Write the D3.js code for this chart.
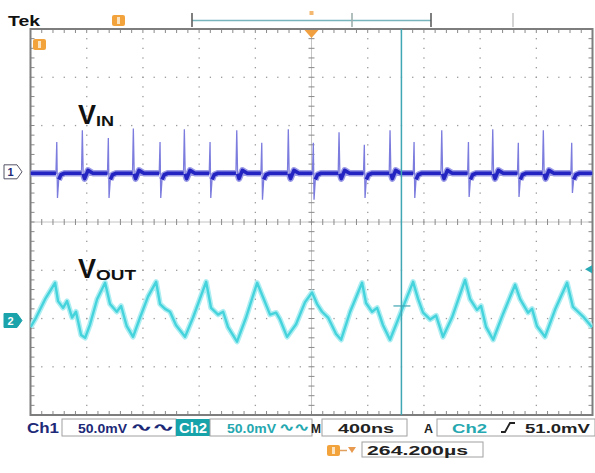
<!DOCTYPE html>
<html>
<head>
<meta charset="utf-8">
<script src="https://cdn.jsdelivr.net/npm/d3@7"></script>
<style>
body{margin:0;background:#fff}
svg{display:block}
text{font-family:"Liberation Sans",Arial,sans-serif;font-weight:bold}
</style>
</head>
<body>
<script>
var width = 595,
    height = 473;

// scope settings
var timePerDiv = 400;      // ns / div
var ch1Scale = 50, ch2Scale = 50;   // mV / div
var ch1Pos = 1.04, ch2Pos = -2;     // div
var trigLevel = 51.0;      // mV (ch2)
var cursorTime = 2640;     // ns

// VIN (ch1): switching spikes
var tallTimes  = [369, 732, 1095, 1468, 1835, 2196, 2559, 2927, 3290, 3650];
var tallPeaks  = [43, 45, 44, 43, 44, 41, 43, 43, 44, 43];
var shortTimes = [187, 554, 922, 1278, 1646, 2013, 2376, 2730, 3117, 3472, 3852];
var shortPeaks = [31, 35, 31, 31, 30, 30, 28, 31, 31, 30, 30];
var shortDips  = [-27, -27, -27, -27, -29, -29, -27, -27, -26, -26, -22];
var vinBase = -1.5;

// VOUT (ch2): ripple vertices
var voutTimes = [0,40,104,175,196,232,260,296,324,360,
    389,424,474,531,566,614,645,685,730,780,
    837,894,922,958,993,1036,1100,1157,1250,1285,
    1335,1371,1406,1470,1534,1613,1655,1705,1748,1776,
    1826,1890,1954,2004,2040,2075,2118,2175,2211,2275,
    2360,2388,2431,2467,2509,2559,2630,2723,2759,2794,
    2844,2887,2936,3000,3093,3129,3178,3207,3243,3293,
    3364,3449,3485,3541,3570,3605,3662,3733,3819,3861,
    3897,3933,3997];
var voutValues = [-9,1,20,37,18,11,18,1,7,-17,
    -20,-6,20,37,15,7,13,-8,-19,1,
    23,38,15,10,7,-7,-19,1,38,11,
    4,7,-9,-24,1,37,22,4,6,-1,
    -19,-6,17,27,15,7,1,-16,-22,7,
    37,16,7,11,-7,-22,4,38,20,6,
    -1,3,-19,1,40,20,9,13,-9,-22,
    5,35,20,6,10,-8,-19,9,37,12,
    7,2,-9];

var svg = d3.select("body").append("svg")
    .attr("width", width)
    .attr("height", height);

var x = d3.scaleLinear().domain([0, 10 * timePerDiv]).range([30.5, 592.5]);
var yDiv = d3.scaleLinear().domain([-4, 4]).range([415, 29]);
var y1 = function(mv){ return yDiv(ch1Pos + mv / ch1Scale); };
var y2 = function(mv){ return yDiv(ch2Pos + mv / ch2Scale); };

var x0 = x.range()[0], xr = x.range()[1], yt = yDiv(4), yb = yDiv(-4);
var gridCol = "#9a9a9a";

svg.append("clipPath").attr("id", "scr").append("rect")
    .attr("x", x0).attr("y", yt).attr("width", xr - x0).attr("height", yb - yt);

//dotted graticule
var g = svg.append("g");
var minor = d3.range(-4, 4.01, 0.2);
var minorX = d3.range(0, 10.01, 0.2);
d3.range(1, 10).forEach(function(i){
    if (i == 5) return;
    minor.forEach(function(v){
        g.append("rect").attr("x", x(i * timePerDiv) - 0.6).attr("y", yDiv(v) - 0.6)
            .attr("width", 1.3).attr("height", 1.3).attr("fill", gridCol);
    });
});
d3.range(-3, 4).forEach(function(j){
    if (j == 0) return;
    minorX.forEach(function(v){
        g.append("rect").attr("x", x(v * timePerDiv) - 0.6).attr("y", yDiv(j) - 0.6)
            .attr("width", 1.3).attr("height", 1.3).attr("fill", gridCol);
    });
});
//center axes with ticks
var xc = x(5 * timePerDiv), yc = yDiv(0);
g.append("line").attr("x1", x0).attr("x2", xr).attr("y1", yc).attr("y2", yc)
    .attr("stroke", "#c4c4c4").attr("stroke-width", 1);
g.append("line").attr("x1", xc).attr("x2", xc).attr("y1", yt).attr("y2", yb)
    .attr("stroke", "#c4c4c4").attr("stroke-width", 1);
minorX.forEach(function(v){
    var xx = x(v * timePerDiv);
    g.append("line").attr("x1", xx).attr("x2", xx).attr("y1", yc - 3).attr("y2", yc + 3)
        .attr("stroke", "#8a8a8a");
    g.append("line").attr("x1", xx).attr("x2", xx).attr("y1", yt).attr("y2", yt + 4)
        .attr("stroke", "#8a8a8a");
    g.append("line").attr("x1", xx).attr("x2", xx).attr("y1", yb - 4).attr("y2", yb)
        .attr("stroke", "#8a8a8a");
});
minor.forEach(function(v){
    var yy = yDiv(v);
    g.append("line").attr("x1", xc - 3).attr("x2", xc + 3).attr("y1", yy).attr("y2", yy)
        .attr("stroke", "#8a8a8a");
    g.append("line").attr("x1", x0).attr("x2", x0 + 4).attr("y1", yy).attr("y2", yy)
        .attr("stroke", "#8a8a8a");
    g.append("line").attr("x1", xr - 4).attr("x2", xr).attr("y1", yy).attr("y2", yy)
        .attr("stroke", "#8a8a8a");
});
g.append("rect").attr("x", x0).attr("y", yt).attr("width", xr - x0).attr("height", yb - yt)
    .attr("fill", "none").attr("stroke", "#7d7d7d").attr("stroke-width", 2);

//build VIN vertices from the spike events
var events = [];
tallTimes.forEach(function(t, i){ events.push({t: t, kind: "tall", up: tallPeaks[i]}); });
shortTimes.forEach(function(t, i){ events.push({t: t, kind: "short", up: shortPeaks[i], dn: shortDips[i]}); });
events.sort(function(a, b){ return a.t - b.t; });
var vin = [[0, vinBase]];
events.forEach(function(e){
    if (e.kind == "tall") {
        vin.push([e.t - 6, vinBase], [e.t, e.up], [e.t + 6, -2], [e.t + 16, -7],
                 [e.t + 40, 1.5], [e.t + 75, vinBase]);
    } else {
        vin.push([e.t - 6, vinBase], [e.t, e.up], [e.t + 5, e.dn], [e.t + 14, -8],
                 [e.t + 30, -3], [e.t + 55, vinBase]);
    }
});
vin.push([10 * timePerDiv, vinBase]);

var lineVin = d3.line().x(function(d){ return x(d[0]); }).y(function(d){ return y1(d[1]); });
var lineVinBase = d3.line()
    .defined(function(d){ return d[1] > -10 && d[1] < 5; })
    .x(function(d){ return x(d[0]); }).y(function(d){ return y1(d[1]); });
var vout = voutTimes.map(function(t, i){ return [t, voutValues[i]]; });
var lineVout = d3.line().x(function(d){ return x(d[0]); }).y(function(d){ return y2(d[1]); });

var traces = svg.append("g").attr("clip-path", "url(#scr)");
traces.append("path").attr("d", lineVin(vin)).attr("fill", "none")
    .attr("stroke", "#7c7cde").attr("stroke-width", 1.3);
traces.append("path").attr("d", lineVinBase(vin)).attr("fill", "none")
    .attr("stroke", "#9a9ae6").attr("stroke-width", 6.5).attr("stroke-linejoin", "round");
traces.append("path").attr("d", lineVinBase(vin)).attr("fill", "none")
    .attr("stroke", "#2424c2").attr("stroke-width", 3.6).attr("stroke-linejoin", "round");
traces.append("path").attr("d", lineVout(vout)).attr("fill", "none")
    .attr("stroke", "#aeeef2").attr("stroke-width", 5.5).attr("stroke-linejoin", "round");
traces.append("path").attr("d", lineVout(vout)).attr("fill", "none")
    .attr("stroke", "#45d3dc").attr("stroke-width", 2.4).attr("stroke-linejoin", "round");

//cursor
var xcur = x(cursorTime);
svg.append("line").attr("x1", xcur).attr("x2", xcur).attr("y1", yt).attr("y2", yb)
    .attr("stroke", "#3fa6b4").attr("stroke-width", 1.5);
svg.append("line").attr("x1", xcur - 8).attr("x2", xcur + 9).attr("y1", y2(13)).attr("y2", y2(13))
    .attr("stroke", "#3fa6b4").attr("stroke-width", 1.2);

//trace labels
function sub(main, s, xx, yy, sLen){
    var t = svg.append("text").attr("x", xx).attr("y", yy).attr("fill", "#111");
    t.append("tspan").attr("font-size", 27).text(main);
    t.append("tspan").attr("font-size", 15).attr("dy", 2).attr("textLength", sLen)
        .attr("lengthAdjust", "spacingAndGlyphs").text(s);
}
sub("V", "IN", 78, 124, 18);
sub("V", "OUT", 78, 278, 40);

//markers left / right
function chMarker(yy, n, fill, stroke, col){
    svg.append("path")
        .attr("d", "M4," + (yy - 7) + "H17L22," + yy + "L17," + (yy + 7) + "H4Z")
        .attr("fill", fill).attr("stroke", stroke).attr("stroke-width", 1);
    svg.append("text").attr("x", 10.5).attr("y", yy + 4).attr("font-size", 11)
        .attr("text-anchor", "middle").attr("fill", col).text(n);
}
chMarker(y1(0), "1", "#fff", "#556", "#1d2a78");
chMarker(y2(0) + 2, "2", "#1aa3aa", "#1aa3aa", "#fff");
var yTrig = y2(trigLevel);
svg.append("path").attr("d", "M585," + yTrig + "L592," + (yTrig - 4) + "V" + (yTrig + 4) + "Z")
    .attr("fill", "#2aaab4");

//orange markers
function orangeTab(xx, yy){
    svg.append("rect").attr("x", xx).attr("y", yy).attr("width", 13).attr("height", 11)
        .attr("rx", 2).attr("fill", "#f2a33c");
    svg.append("rect").attr("x", xx + 5).attr("y", yy + 2).attr("width", 3).attr("height", 7)
        .attr("fill", "#fbe3c0");
}
orangeTab(112, 15);
orangeTab(33, 39);
svg.append("path").attr("d", "M" + (xc - 7) + "," + (yt + 1) + "H" + (xc + 7) + "L" + xc + "," + (yt + 9) + "Z")
    .attr("fill", "#f0a040");
svg.append("rect").attr("x", xc - 2).attr("y", 11).attr("width", 4).attr("height", 4).attr("fill", "#f4b870");

//top record bracket
svg.append("line").attr("x1", 192).attr("x2", 431).attr("y1", 20.5).attr("y2", 20.5)
    .attr("stroke", "#78b4bc").attr("stroke-width", 1.5);
[[192, "#555"], [431, "#555"], [352, "#9aa"], [513, "#c4c4c4"]].forEach(function(d){
    svg.append("line").attr("x1", d[0]).attr("x2", d[0]).attr("y1", 13).attr("y2", 27)
        .attr("stroke", d[1]).attr("stroke-width", 1.5);
});
svg.append("text").attr("x", 8).attr("y", 26).attr("font-size", 15)
    .attr("font-family", "DejaVu Serif").attr("textLength", 32).attr("lengthAdjust", "spacingAndGlyphs")
    .attr("fill", "#111").text("Tek");

//status bar
function label(txt, xx, yy, len, col, size, fam){
    return svg.append("text").attr("x", xx).attr("y", yy).attr("font-size", size || 13)
        .attr("font-family", fam || null)
        .attr("textLength", len).attr("lengthAdjust", "spacingAndGlyphs")
        .attr("fill", col).text(txt);
}
function box(xx, yy, w, h){
    svg.append("rect").attr("x", xx).attr("y", yy).attr("width", w).attr("height", h)
        .attr("fill", "none").attr("stroke", "#a0a0a0").attr("stroke-width", 1);
}
var navy = "#1d2a78", teal = "#26a8b0", dark = "#222";
box(62, 419, 114, 17);
label("Ch1", 27, 433, 32, navy, 14);
label("50.0mV", 78, 433, 49, navy);
label("\u223f\u223f", 130, 431, 44, navy, 11, "DejaVu Sans").attr("font-weight", "normal");
svg.append("rect").attr("x", 176).attr("y", 419).attr("width", 34).attr("height", 17).attr("fill", "#17a3aa");
label("Ch2", 179, 433, 28, "#fff", 14);
box(210, 419, 102, 17);
label("50.0mV", 227, 433, 49, teal);
label("\u223f\u223f", 279, 431, 30, teal, 11, "DejaVu Sans").attr("font-weight", "normal");
label("M", 311, 433, 10, dark);
box(322, 419, 85, 17);
label("400ns", 338, 433, 56, dark);
label("A", 424, 433, 9, dark);
box(437, 419, 158, 17);
label("Ch2", 452, 433, 35, teal);
svg.append("path").attr("d", "M501,432H505L510,423H515").attr("fill", "none")
    .attr("stroke", dark).attr("stroke-width", 1.8);
label("51.0mV", 525, 433, 65, dark);

orangeTab(327, 445);
svg.append("line").attr("x1", 340).attr("x2", 347).attr("y1", 450.5).attr("y2", 450.5)
    .attr("stroke", "#e0a060").attr("stroke-width", 1.5);
svg.append("path").attr("d", "M348,447H356L352,453Z").attr("fill", "#e89a50");
box(362, 442, 121, 15);
label("264.200\u00b5s", 367, 455, 101, dark);
</script>
</body>
</html>
